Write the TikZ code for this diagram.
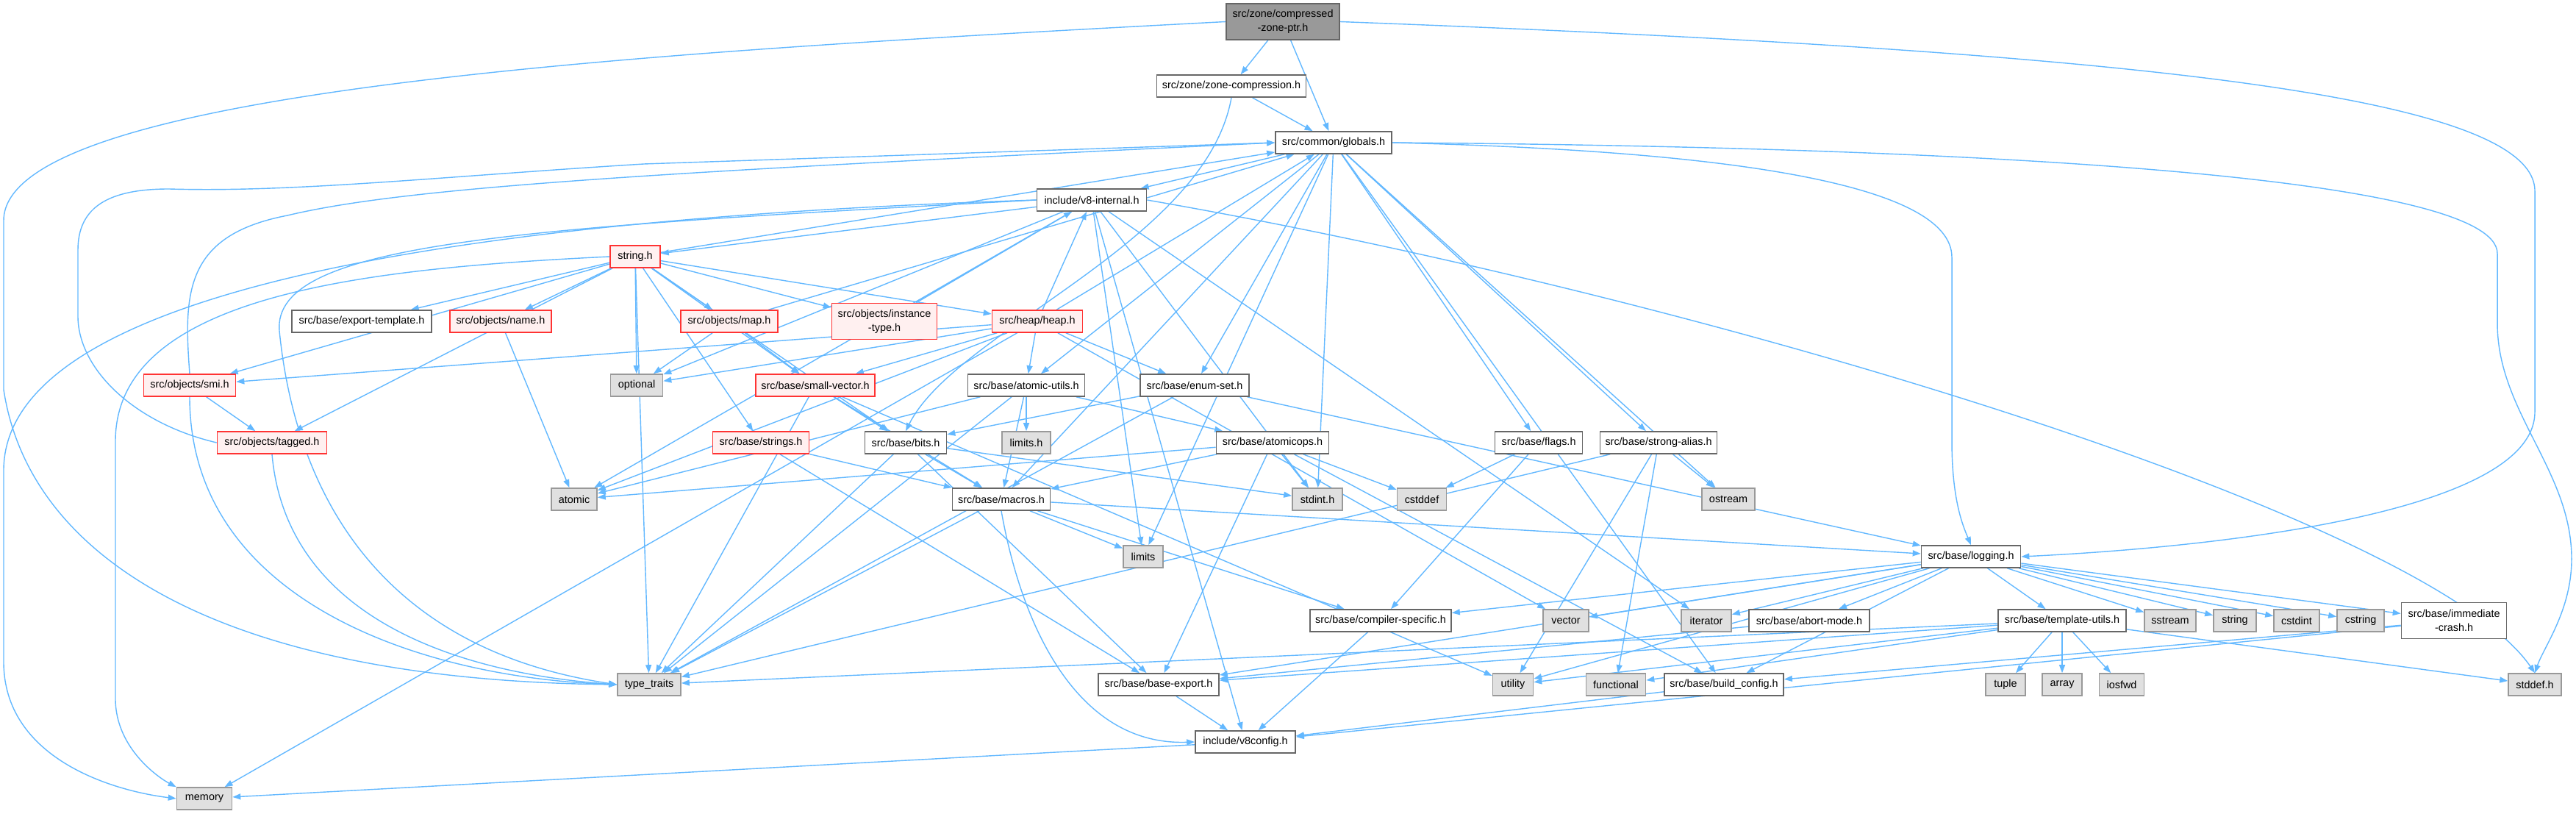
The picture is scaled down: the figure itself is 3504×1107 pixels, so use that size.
\documentclass[tikz,border=0pt]{standalone}
\usepackage{fontspec}
\setmainfont{Liberation Sans}
\usetikzlibrary{arrows.meta}
\definecolor{EdgeBlue}{HTML}{63B8FF}
\definecolor{BoxLine}{HTML}{666666}
\definecolor{SysLine}{HTML}{999999}
\definecolor{SysFill}{HTML}{E0E0E0}
\definecolor{TruncLine}{HTML}{FF3333}
\definecolor{TruncFill}{HTML}{FFF0F0}
\pgfdeclarelayer{edges}
\pgfsetlayers{edges,main}

\tikzset{
  file/.style={draw=BoxLine,fill=white,line width=0.45pt,minimum height=0.3cm,inner sep=0pt,align=center,font=\fontsize{4.1pt}{5.4pt}\selectfont},
  sys/.style={file,draw=SysLine,fill=SysFill},
  trunc/.style={file,draw=TruncLine,fill=TruncFill},
  root/.style={file,fill=SysLine,minimum height=0.49cm},
  dep/.style={draw=EdgeBlue,line width=0.4pt,-{Triangle[length=0.11cm,width=0.08cm]}}
}

\begin{document}
\begin{tikzpicture}[x=0.01cm,y=-0.01cm]
  \useasboundingbox (0,0) rectangle (3504,1107);
  % files, row by row
  \node[root,minimum width=1.54cm] (czp) at (1745,29.5) {src/zone/compressed\\-zone-ptr.h};
  \node[file,minimum width=2.03cm] (zonecomp) at (1675,117) {src/zone/zone-compression.h};
  \node[file,minimum width=1.58cm] (globals) at (1814,194) {src/common/globals.h};
  \node[file,minimum width=1.49cm] (v8int) at (1485,272) {include/v8-internal.h};
  \node[trunc,minimum width=0.68cm] (stringh) at (864,349) {string.h};
  \node[file,minimum width=1.90cm] (exptmpl) at (492,437) {src/base/export-template.h};
  \node[trunc,minimum width=1.38cm] (name) at (681,437) {src/objects/name.h};
  \node[trunc,minimum width=1.32cm] (map) at (992,437) {src/objects/map.h};
  \node[trunc,minimum width=1.43cm,minimum height=0.49cm] (insttype) at (1203,437) {src/objects/instance\\-type.h};
  \node[trunc,minimum width=1.23cm] (heap) at (1411,437) {src/heap/heap.h};
  \node[trunc,minimum width=1.25cm] (smi) at (258,524) {src/objects/smi.h};
  \node[sys,minimum width=0.71cm] (optional) at (866,524) {optional};
  \node[trunc,minimum width=1.62cm] (smallvec) at (1109,524) {src/base/small-vector.h};
  \node[file,minimum width=1.59cm] (atomicutils) at (1396,524) {src/base/atomic-utils.h};
  \node[file,minimum width=1.48cm] (enumset) at (1625,524) {src/base/enum-set.h};
  \node[trunc,minimum width=1.49cm] (tagged) at (370,602) {src/objects/tagged.h};
  \node[trunc,minimum width=1.31cm] (strings) at (1035,602) {src/base/strings.h};
  \node[file,minimum width=1.11cm] (bits) at (1232,602) {src/base/bits.h};
  \node[sys,minimum width=0.66cm] (limitsh) at (1396,602) {limits.h};
  \node[file,minimum width=1.53cm] (atomicops) at (1731,602) {src/base/atomicops.h};
  \node[file,minimum width=1.19cm] (flags) at (2093,602) {src/base/flags.h};
  \node[file,minimum width=1.59cm] (strongalias) at (2256,602) {src/base/strong-alias.h};
  \node[sys,minimum width=0.62cm] (atomic) at (781,679) {atomic};
  \node[file,minimum width=1.33cm] (macros) at (1362,679) {src/base/macros.h};
  \node[sys,minimum width=0.68cm] (stdint) at (1792,679) {stdint.h};
  \node[sys,minimum width=0.67cm] (cstddef) at (1934,679) {cstddef};
  \node[sys,minimum width=0.72cm] (ostream) at (2351,679) {ostream};
  \node[sys,minimum width=0.54cm] (limits) at (1555,757) {limits};
  \node[file,minimum width=1.35cm] (logging) at (2681,757) {src/base/logging.h};
  \node[file,minimum width=1.92cm] (compspec) at (1878,844) {src/base/compiler-specific.h};
  \node[sys,minimum width=0.62cm] (vector) at (2130,844) {vector};
  \node[sys,minimum width=0.68cm] (iterator) at (2321,844) {iterator};
  \node[file,minimum width=1.64cm] (abortmode) at (2461,844) {src/base/abort-mode.h};
  \node[file,minimum width=1.74cm] (tmplutils) at (2805,844) {src/base/template-utils.h};
  \node[sys,minimum width=0.70cm] (sstream) at (2952,844) {sstream};
  \node[sys,minimum width=0.58cm] (string) at (3040,844) {string};
  \node[sys,minimum width=0.62cm] (cstdint) at (3124,844) {cstdint};
  \node[sys,minimum width=0.64cm] (cstring) at (3211,844) {cstring};
  \node[file,minimum width=1.43cm,minimum height=0.49cm] (immcrash) at (3338,844) {src/base/immediate\\-crash.h};
  \node[sys,minimum width=0.86cm] (typetraits) at (883,931) {type\_traits};
  \node[file,minimum width=1.64cm] (baseexport) at (1576,931) {src/base/base-export.h};
  \node[sys,minimum width=0.55cm] (utility) at (2058,931) {utility};
  \node[sys,minimum width=0.81cm] (functional) at (2198,931) {functional};
  \node[file,minimum width=1.62cm] (buildcfg) at (2345,931) {src/base/build\_config.h};
  \node[sys,minimum width=0.54cm] (tuple) at (2728,931) {tuple};
  \node[sys,minimum width=0.54cm] (array) at (2805,931) {array};
  \node[sys,minimum width=0.61cm] (iosfwd) at (2886,931) {iosfwd};
  \node[sys,minimum width=0.72cm] (stddef) at (3448,931) {stddef.h};
  \node[file,minimum width=1.36cm] (v8config) at (1694,1009) {include/v8config.h};
  \node[sys,minimum width=0.75cm] (memory) at (278,1086) {memory};

  \begin{pgfonlayer}{edges}
  % long routed includes
  \draw[dep] (czp.west) .. controls (900,70) and (5,120) .. (5,300) -- (5,530) .. controls (40,760) and (300,925) .. (typetraits.west);
  \draw[dep] (czp.east) .. controls (2900,70) and (3448,130) .. (3448,260) -- (3448,560) .. controls (3448,700) and (3000,745) .. (logging.east);
  \draw[dep] (globals.east) .. controls (2700,200) and (3397,240) .. (3397,345) -- (3397,440) .. controls (3397,560) and (3498,640) .. (3498,760) .. controls (3498,830) and (3460,880) .. (stddef.north);
  \draw[dep] (globals.east) .. controls (2350,205) and (2655,250) .. (2655,350) -- (2655,600) .. controls (2655,680) and (2670,715) .. (logging.north);
  \draw[dep] (v8int.west) .. controls (700,295) and (5,380) .. (5,640) -- (5,900) .. controls (5,1030) and (150,1075) .. (memory.west);
  \draw[dep] (v8int.west) .. controls (700,310) and (370,330) .. (380,450) .. controls (400,650) and (500,880) .. (typetraits.west);
  \draw[dep] (stringh.west) .. controls (500,365) and (157,400) .. (157,600) -- (157,950) .. controls (157,1020) and (220,1060) .. (memory.north west);
  \draw[dep] (tagged.west) .. controls (180,575) and (106,500) .. (106,430) -- (106,340) .. controls (106,280) and (150,257) .. (230,257) .. controls (400,262) and (600,240) .. (876,223) -- (globals.west);
  \draw[dep] (smi.north) .. controls (250,400) and (250,320) .. (391,293) .. controls (550,255) and (876,235) .. (globals.west);
  \draw[dep] (v8int.east) .. controls (2300,400) and (3300,700) .. (stddef.north);
  \draw[dep] (zonecomp.south) .. controls (1640,330) and (1300,450) .. (bits.north);
  \draw[dep] (smi.south) to[out=-90,in=178] (typetraits.west);
  \draw[dep] (tagged.south) to[out=-85,in=176] (typetraits.west);
  \draw[dep] (macros.south) to[out=-80,in=182] (v8config.west);

  % straight includes
  \foreach \a/\b in {czp/zonecomp, czp/globals, zonecomp/globals,
      globals/v8int, globals/stdint, globals/flags, globals/strongalias, globals/ostream, globals/buildcfg,
      globals/limits, globals/macros, globals/atomicutils, globals/enumset,
      v8int/stringh, v8int/stdint, v8int/atomic, v8int/iterator, v8int/limits, v8int/optional, v8int/v8config,
      stringh/globals, stringh/exptmpl, stringh/name, stringh/map, stringh/insttype, stringh/heap, stringh/smi,
      stringh/tagged, stringh/optional, stringh/smallvec, stringh/strings, stringh/bits, stringh/typetraits,
      name/atomic, map/optional, map/smallvec, map/globals, insttype/v8int,
      heap/v8int, heap/globals, heap/atomicutils, heap/enumset, heap/smallvec, heap/optional, heap/smi,
      heap/atomic, heap/memory, heap/vector, smi/tagged,
      smallvec/bits, smallvec/macros, smallvec/typetraits, smallvec/utility,
      atomicutils/atomic, atomicutils/limitsh, atomicutils/macros, atomicutils/typetraits, atomicutils/atomicops,
      enumset/bits, enumset/logging, enumset/typetraits, strings/macros, strings/baseexport,
      bits/macros, bits/stdint, bits/typetraits, bits/baseexport,
      atomicops/macros, atomicops/atomic, atomicops/stdint, atomicops/cstddef, atomicops/baseexport, atomicops/buildcfg,
      flags/cstddef, flags/compspec, strongalias/functional, strongalias/utility, strongalias/ostream, strongalias/typetraits,
      macros/limits, macros/logging, macros/compspec, macros/typetraits,
      logging/vector, logging/iterator, logging/abortmode, logging/tmplutils, logging/sstream, logging/string,
      logging/cstdint, logging/cstring, logging/immcrash, logging/compspec, logging/baseexport, logging/buildcfg, logging/utility,
      tmplutils/tuple, tmplutils/array, tmplutils/iosfwd, tmplutils/stddef, tmplutils/functional, tmplutils/utility,
      tmplutils/typetraits, tmplutils/baseexport,
      abortmode/baseexport, immcrash/v8config, immcrash/buildcfg, compspec/v8config, baseexport/v8config,
      buildcfg/v8config, v8config/memory}
    \draw[dep] (\a) -- (\b);
  \end{pgfonlayer}
\end{tikzpicture}
\end{document}
